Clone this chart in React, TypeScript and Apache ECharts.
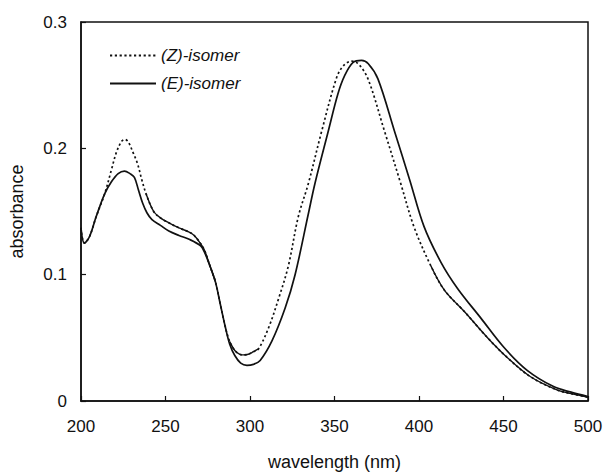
import React, { useEffect, useRef } from "react";
import * as echarts from "echarts";

const zWavelength = [200, 202, 205, 209, 214, 218, 221, 224, 226, 228, 231, 233.5, 236, 238.5, 243, 247, 252, 258, 264, 267, 270, 273, 276, 279.5, 282.5, 285.5, 288, 291, 294, 296.3, 299, 302, 305, 311, 317, 322.7, 328.6, 334.5, 342.4, 351, 355, 360, 364, 369.8, 379.6, 389, 397, 407, 415, 426.7, 440.4, 452, 466, 481.6, 490, 500];
const zAbsorbance = [0.137, 0.125, 0.13, 0.146, 0.164, 0.183, 0.197, 0.2055, 0.207, 0.205, 0.196, 0.1876, 0.175, 0.164, 0.15, 0.145, 0.141, 0.137, 0.1337, 0.131, 0.126, 0.1195, 0.108, 0.0945, 0.0762, 0.058, 0.047, 0.04, 0.037, 0.0365, 0.037, 0.039, 0.0412, 0.058, 0.0814, 0.107, 0.146, 0.172, 0.2135, 0.255, 0.265, 0.269, 0.267, 0.255, 0.2135, 0.173, 0.138, 0.107, 0.0878, 0.071, 0.0503, 0.0347, 0.0192, 0.0088, 0.0058, 0.003];

const eWavelength = [200, 202, 205, 209, 214, 218, 222, 225.7, 229, 231.6, 234, 236.5, 239, 242, 247, 252, 258, 264, 270.8, 273, 276, 279.5, 282.5, 285.5, 288, 291, 294.5, 298.2, 302, 306, 313, 320.8, 326.6, 334.5, 338.4, 346.3, 352, 356, 361, 366, 370, 375.7, 385.5, 394.5, 403, 413, 422.8, 436.5, 450.2, 464, 479.6, 490, 500];
const eAbsorbance = [0.137, 0.125, 0.13, 0.146, 0.164, 0.1735, 0.18, 0.182, 0.18, 0.177, 0.167, 0.1565, 0.149, 0.1435, 0.139, 0.1345, 0.131, 0.128, 0.1228, 0.118, 0.108, 0.0945, 0.0762, 0.058, 0.045, 0.036, 0.03, 0.0282, 0.029, 0.0321, 0.0476, 0.0736, 0.0995, 0.148, 0.172, 0.2135, 0.243, 0.2575, 0.268, 0.2697, 0.267, 0.255, 0.2135, 0.175, 0.138, 0.1098, 0.0891, 0.0658, 0.0425, 0.0243, 0.0114, 0.007, 0.0035];

// wavelength ranges where the (Z) trace prints as a continuous line in the scan
const zSolidRanges = [
  [238.5, 279.5],
  [288, 305],
  [407, 500],
];

const xTicks = [200, 250, 300, 350, 400, 450, 500];
const yTicks = [0, 0.1, 0.2, 0.3];

const seriesNames = ["(Z)-isomer", "(E)-isomer"];

const FONT = "'Liberation Sans', Arial, Helvetica, sans-serif";
const INK = "#111";

export default function App() {
  const ref = useRef<HTMLDivElement>(null);

  useEffect(() => {
    if (!ref.current) return;
    const chart = echarts.init(ref.current, undefined, { renderer: "svg" });

    const zData = zWavelength.map((x, i) => [x, zAbsorbance[i]]);
    const eData = eWavelength.map((x, i) => [x, eAbsorbance[i]]);
    const solidSegments = zSolidRanges.map(([a, b]) =>
      zData.filter(([x]) => x >= a && x <= b)
    );

    const lineBase = {
      type: "line" as const,
      smooth: 0.35,
      showSymbol: false,
      symbol: "none",
      silent: true,
      animation: false,
    };

    chart.setOption({
      animation: false,
      grid: {
        left: 78,
        right: 18,
        top: 22,
        bottom: 68,
        show: true,
        borderColor: INK,
        borderWidth: 1.5,
        backgroundColor: "transparent",
      },
      legend: {
        data: seriesNames,
        orient: "vertical",
        left: 104,
        top: 42,
        itemWidth: 46,
        itemHeight: 14,
        itemGap: 11,
        itemStyle: { opacity: 0 },
        textStyle: {
          fontFamily: FONT,
          fontSize: 17,
          fontStyle: "italic",
          color: INK,
        },
        selectedMode: false,
      },
      xAxis: {
        type: "value",
        min: xTicks[0],
        max: xTicks[xTicks.length - 1],
        interval: 50,
        name: "wavelength (nm)",
        nameLocation: "middle",
        nameGap: 52,
        nameTextStyle: { fontFamily: FONT, fontSize: 18, color: INK },
        axisLine: { show: true, lineStyle: { color: INK, width: 1.5 } },
        axisTick: { show: true, inside: true, length: 5, lineStyle: { color: INK, width: 1.2 } },
        axisLabel: { fontFamily: FONT, fontSize: 17, color: INK, margin: 17 },
        splitLine: { show: false },
      },
      yAxis: {
        type: "value",
        min: yTicks[0],
        max: yTicks[yTicks.length - 1],
        interval: 0.1,
        name: "absorbance",
        nameLocation: "middle",
        nameGap: 55,
        nameTextStyle: { fontFamily: FONT, fontSize: 18, color: INK },
        axisLine: { show: true, lineStyle: { color: INK, width: 1.5 } },
        axisTick: { show: true, inside: true, length: 5, lineStyle: { color: INK, width: 1.2 } },
        axisLabel: {
          fontFamily: FONT,
          fontSize: 17,
          color: INK,
          margin: 14,
          formatter: (v: number) => (v === 0 ? "0" : v.toFixed(1)),
        },
        splitLine: { show: false },
      },
      series: [
        {
          ...lineBase,
          name: seriesNames[0],
          data: zData,
          lineStyle: { color: INK, width: 1.7, type: [2.2, 2.6] },
          itemStyle: { color: INK },
          z: 3,
        },
        {
          ...lineBase,
          name: seriesNames[1],
          data: eData,
          lineStyle: { color: INK, width: 1.7, type: "solid" },
          itemStyle: { color: INK },
          z: 2,
        },
        ...solidSegments.map((seg, i) => ({
          ...lineBase,
          name: "z-solid-" + i,
          data: seg,
          lineStyle: { color: INK, width: 1.4, type: "solid" },
          itemStyle: { color: INK },
          z: 2,
        })),
      ],
    });

    return () => chart.dispose();
  }, []);

  return (
    <div
      ref={ref}
      style={{ position: "absolute", left: 0, top: 0, width: 606, height: 476, background: "#fff" }}
    />
  );
}
